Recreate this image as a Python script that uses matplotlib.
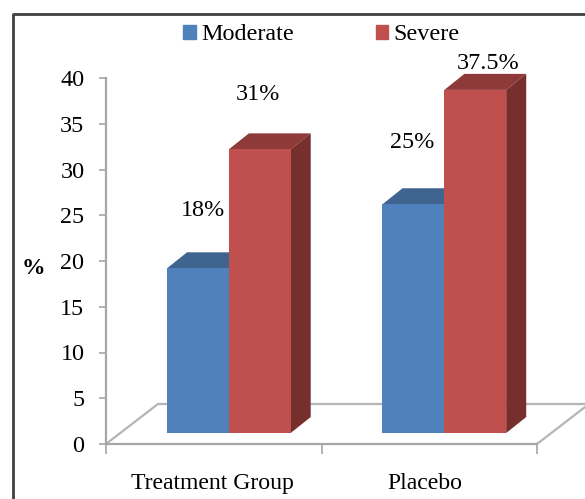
import numpy as np
import matplotlib
matplotlib.use("Agg")
import matplotlib.pyplot as plt
from matplotlib.lines import Line2D
from matplotlib.patches import Patch

plt.rcParams['font.family'] = ['Liberation Serif', 'DejaVu Serif']

# data
groups = ["Treatment Group", "Placebo"]
moderate = [18, 25]
severe = [31, 37.5]
moderate_labels = ["18%", "25%"]
severe_labels = ["31%", "37.5%"]
yticks = [0, 5, 10, 15, 20, 25, 30, 35, 40]

W, H = 585, 499
fs = 17.4
fig = plt.figure(figsize=(W / 100, H / 100), dpi=100)
# axes box in pixels : x 106-537, y 78-444
ax = fig.add_axes([106 / W, 1 - 444 / H, (537 - 106) / W, (444 - 78) / H])
ax.set_xlim(0, 2)
ax.set_ylim(0, 40)
ax.patch.set_alpha(0)

grey = "#a6a6a6"
for s in ["top", "right"]:
    ax.spines[s].set_visible(False)
for s in ["left", "bottom"]:
    ax.spines[s].set_color(grey)
    ax.spines[s].set_linewidth(1.6)

ax.set_yticks(yticks)
ax.tick_params(axis="y", length=5, width=1.2, color=grey, pad=10.5, labelsize=fs)
ax.set_xticks([0, 1, 2])
ax.set_xticklabels([])
ax.tick_params(axis="x", length=7, width=1.2, color=grey)
ax.set_xticks([0.493, 1.48], minor=True)
ax.set_xticklabels(groups, minor=True, fontsize=17.1)
ax.tick_params(axis="x", which="minor", length=0, pad=21)

# floor of the fake 3d box
floor_dx, floor_dy = 0.241, 4.37
ax.plot([0, floor_dx, 2 + floor_dx, 2], [0, floor_dy, floor_dy, 0],
        color="#b5b5b5", lw=1.6, clip_on=False, zorder=1)

# bars, with top and side faces drawn from the same values
pos = np.arange(len(groups))
bar_w = 0.287
shift = 0.57
base = 1.2
dx, dy = 0.093, 1.75


def bars(xs, vals, front, top, side, z):
    ax.bar(xs, vals, bar_w, bottom=base, align="edge", color=front, zorder=z + 1)
    for x, v in zip(xs, vals):
        t = base + v
        ax.fill([x, x + dx, x + bar_w + dx, x + bar_w], [t, t + dy, t + dy, t],
                color=top, lw=0, zorder=z, clip_on=False)
        ax.fill([x + bar_w, x + bar_w + dx, x + bar_w + dx, x + bar_w],
                [base, base + dy, t + dy, t], color=side, lw=0, zorder=z, clip_on=False)


bars(pos + shift - bar_w, moderate, "#4f81bd", "#3f648f", "#3f648f", 2)
bars(pos + shift, severe, "#c0504d", "#8e3a38", "#772f2d", 4)

# data labels were placed by hand in the original
mod_lab_x = [0.45, 1.42]
mod_lab_y = [25.55, 33.0]
sev_lab_x = [0.705, 1.772]
sev_lab_y = [38.2, 41.6]
for i in range(len(groups)):
    ax.text(mod_lab_x[i], mod_lab_y[i], moderate_labels[i], ha="center", va="center",
            fontsize=fs, zorder=8)
    ax.text(sev_lab_x[i], sev_lab_y[i], severe_labels[i], ha="center", va="center",
            fontsize=fs, zorder=8)

fig.text(33 / W, 1 - 268 / H, "%", ha="center", va="center", fontsize=17, fontweight="bold")

handles = [Patch(color="#4f81bd", label="Moderate"), Patch(color="#c0504d", label="Severe")]
fig.legend(handles=handles, loc="center", bbox_to_anchor=(321.5 / W, 1 - 35 / H), ncols=2,
           frameon=False, fontsize=fs, handlelength=0.51, handleheight=0.51,
           handletextpad=0.22, columnspacing=3.39, borderpad=0, borderaxespad=0)

# outer frame, right and bottom fall outside the picture
frame = Line2D([13 / W, 13 / W, 1], [0, 1 - 14 / H, 1 - 14 / H], color="#404040", lw=2,
               transform=fig.transFigure)
fig.add_artist(frame)

fig.savefig("out.png", dpi=100)
